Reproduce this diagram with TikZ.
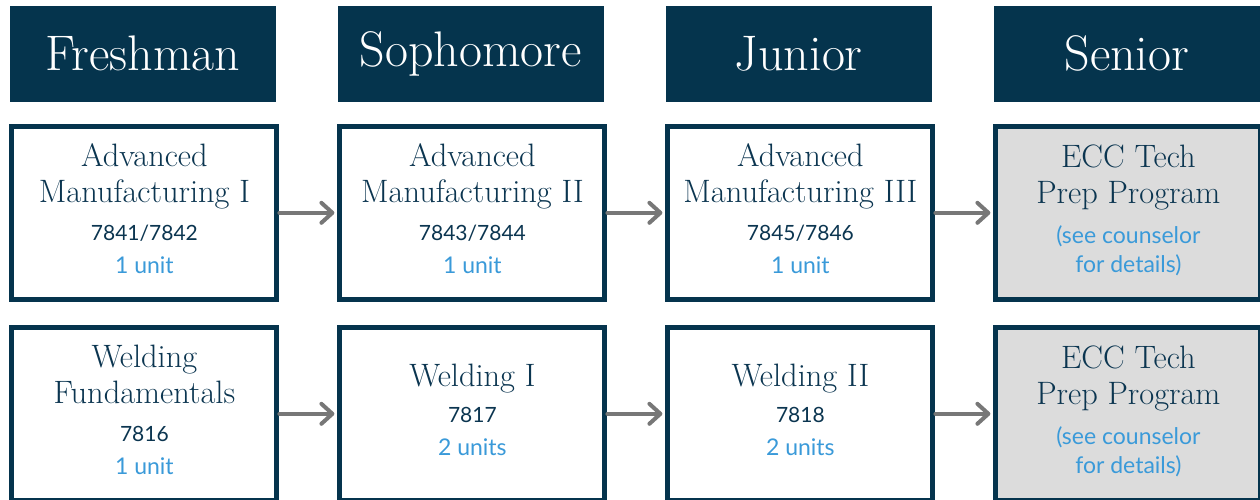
\documentclass[tikz,border=0pt]{standalone}
\usepackage{fontspec}
\newfontfamily\latofont{Lato}
\usetikzlibrary{
  arrows.meta,
  chains,
  matrix,
  positioning,
  scopes
}
\definecolor{navy}{HTML}{05344D}
\definecolor{inknavy}{HTML}{0B3550}
\definecolor{unitblue}{HTML}{3A9AD9}
\definecolor{arrowgray}{HTML}{777777}
\definecolor{prepgray}{HTML}{DCDCDC}
\newcommand{\crscode}[1]{{\latofont\fontsize{10.5}{12}\selectfont #1}}
\newcommand{\crsunit}[1]{{\latofont\fontsize{11.5}{13}\selectfont\color{unitblue}#1}}

\begin{document}
\begin{tikzpicture}[x=0.5pt,y=-0.5pt,
      year/.style={
         rectangle,
         fill=navy,
         text=white,
         inner sep=0pt,
         minimum width=133pt,
         minimum height=48pt,
         font=\fontsize{25}{30}\selectfont
      },
      course/.style={
         rectangle,
         draw=navy,
         line width=2.5pt,
         fill=white,
         text=inknavy,
         inner sep=0pt,
         minimum width=132.5pt,
         minimum height=86.5pt,
         align=center,
         text depth=4.5pt,
         font=\fontsize{16.2}{18}\selectfont
      },
      prep/.style={course, fill=prepgray},
      >={Straight Barb[length=5.5pt,width=10pt,round]},
      tip/.style={->,shorten >=1.5pt},
      every join/.style={line width=2pt,draw=arrowgray,line cap=round}
    ]
    \useasboundingbox (0,0) rectangle (1260,499);
    \matrix (plan) [anchor=north west, inner sep=0pt, column sep=29pt, row sep=11pt] at (9,5) {
\node (yr1) [year] {Freshman}; & \node (yr2) [year] {Sophomore}; & \node (yr3) [year] {Junior}; & \node (yr4) [year] {Senior};\\
\node (am1) [course] {Advanced\\Manufacturing I\\[1pt]\crscode{7841/7842}\\[-1.5pt]\crsunit{1 unit}}; & \node (am2) [course] {Advanced\\Manufacturing II\\[1pt]\crscode{7843/7844}\\[-1.5pt]\crsunit{1 unit}}; & \node (am3) [course] {Advanced\\Manufacturing III\\[1pt]\crscode{7845/7846}\\[-1.5pt]\crsunit{1 unit}}; & \node (am4) [prep] {ECC Tech\\Prep Program\\[2pt]\crsunit{(see counselor}\\[-3.5pt]\crsunit{for details)}};\\[0.5pt]
\node (wd1) [course] {Welding\\Fundamentals\\[1pt]\crscode{7816}\\[-1.5pt]\crsunit{1 unit}}; & \node (wd2) [course] {Welding I\\[0pt]\crscode{7817}\\[-1.5pt]\crsunit{2 units}}; & \node (wd3) [course] {Welding II\\[0pt]\crscode{7818}\\[-1.5pt]\crsunit{2 units}}; & \node (wd4) [prep] {ECC Tech\\Prep Program\\[2pt]\crsunit{(see counselor}\\[-3.5pt]\crsunit{for details)}};\\
    };
  { [start chain]
       \chainin (am1);
       \chainin (am2)    [join=by tip];
       \chainin (am3)    [join=by tip];
       \chainin (am4)    [join=by tip];
  }
  { [start chain]
       \chainin (wd1);
       \chainin (wd2)    [join=by tip];
       \chainin (wd3)    [join=by tip];
       \chainin (wd4)    [join=by tip];
  }
\end{tikzpicture}
\end{document}
